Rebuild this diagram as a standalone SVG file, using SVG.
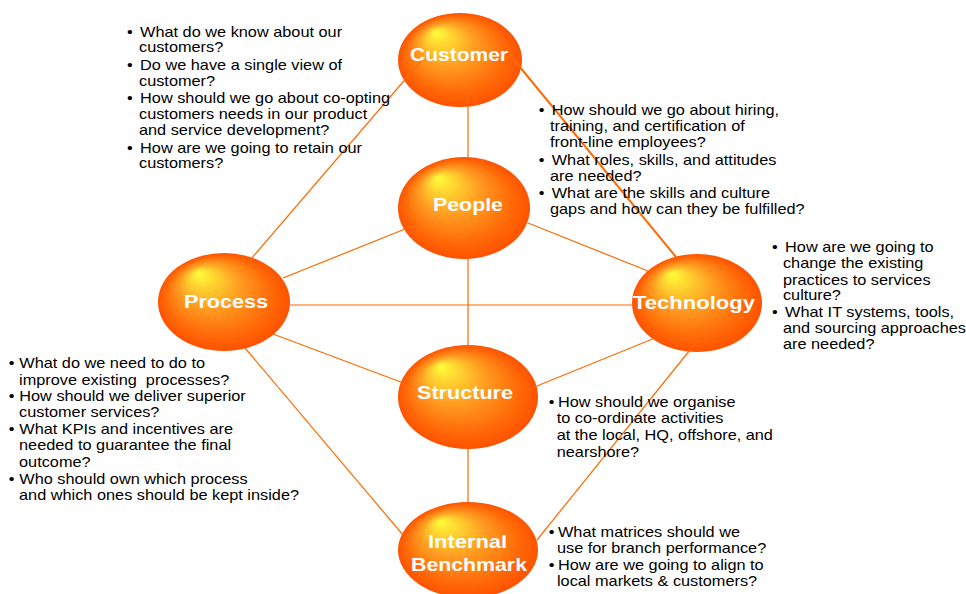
<svg xmlns="http://www.w3.org/2000/svg" width="966" height="594" viewBox="0 0 966 594">
<defs>
<radialGradient id="orb" cx="0.5" cy="0.5" r="0.5" fx="0.3" fy="0.2">
<stop offset="0" stop-color="#FFFF3A"/>
<stop offset="0.15" stop-color="#FFDD33"/>
<stop offset="0.45" stop-color="#FF9E22"/>
<stop offset="0.8" stop-color="#FF6A08"/>
<stop offset="1" stop-color="#FF5200"/>
</radialGradient>
</defs>
<style>
.orb{fill:url(#orb);}
.lbl{font-family:"Liberation Sans",Arial,sans-serif;font-weight:bold;font-size:19px;fill:#FFFFFF;}
.txt{font-family:"Liberation Sans",Arial,sans-serif;font-size:14px;fill:#000000;}
.con{stroke:#FF6A00;stroke-width:1.2;fill:none;}
.thick{stroke-width:2;}
</style>
<rect width="966" height="594" fill="#FFFFFF"/>

<g id="node-customer">
<ellipse class="orb" cx="460" cy="60" rx="62" ry="47"/>
<text class="lbl" x="410" y="61" textLength="98" lengthAdjust="spacingAndGlyphs">Customer</text>
</g>
<g id="node-people">
<ellipse class="orb" cx="464" cy="208" rx="66" ry="51"/>
<text class="lbl" x="433" y="211" textLength="70" lengthAdjust="spacingAndGlyphs">People</text>
</g>
<g id="node-process">
<ellipse class="orb" cx="224" cy="302" rx="66" ry="49"/>
<text class="lbl" x="184" y="308" textLength="84" lengthAdjust="spacingAndGlyphs">Process</text>
</g>
<g id="node-technology">
<ellipse class="orb" cx="697" cy="303" rx="65" ry="49"/>
<text class="lbl" x="633" y="309" textLength="122" lengthAdjust="spacingAndGlyphs">Technology</text>
</g>
<g id="node-structure">
<ellipse class="orb" cx="468" cy="397" rx="70" ry="52"/>
<text class="lbl" x="417" y="399" textLength="96" lengthAdjust="spacingAndGlyphs">Structure</text>
</g>
<g id="node-benchmark">
<ellipse class="orb" cx="468" cy="550" rx="70" ry="48"/>
<text class="lbl" x="428" y="548" textLength="79" lengthAdjust="spacingAndGlyphs">Internal</text>
<text class="lbl" x="411" y="571" textLength="116" lengthAdjust="spacingAndGlyphs">Benchmark</text>
</g>

<g id="connectors">
<line class="con" x1="421" y1="61" x2="245" y2="266"/>
<line class="con" x1="468" y1="92" x2="468" y2="158"/>
<line class="con thick" x1="510" y1="55" x2="676" y2="257"/>
<line class="con" x1="283" y1="278" x2="420" y2="223"/>
<line class="con" x1="528" y1="223" x2="648" y2="271"/>
<line class="con" x1="468" y1="258" x2="468" y2="346"/>
<line class="con" x1="290" y1="305" x2="634" y2="305"/>
<line class="con" x1="273" y1="334" x2="414" y2="387"/>
<line class="con" x1="245" y1="348" x2="403" y2="535"/>
<line class="con" x1="527" y1="390" x2="655" y2="338"/>
<line class="con" x1="468" y1="447" x2="468" y2="503"/>
<line class="con" x1="698" y1="340" x2="537" y2="540"/>
</g>

<g id="notes-customer" transform="translate(127,0) scale(1.165,1)">
<text class="txt">
<tspan x="0" y="37">•</tspan><tspan x="11.2">What do we know about our</tspan>
<tspan x="10.3" y="52">customers?</tspan>
<tspan x="0" y="70">•</tspan><tspan x="11.2">Do we have a single view of</tspan>
<tspan x="10.3" y="86">customer?</tspan>
<tspan x="0" y="103">•</tspan><tspan x="11.2">How should we go about co-opting</tspan>
<tspan x="10.3" y="119">customers needs in our product</tspan>
<tspan x="10.3" y="135">and service development?</tspan>
<tspan x="0" y="153">•</tspan><tspan x="11.2">How are we going to retain our</tspan>
<tspan x="10.3" y="168">customers?</tspan>
</text>
</g>

<g id="notes-people" transform="translate(538.8,0) scale(1.165,1)">
<text class="txt">
<tspan x="0" y="115">•</tspan><tspan x="11.1">How should we go about hiring,</tspan>
<tspan x="9.6" y="131">training, and certification of</tspan>
<tspan x="9.6" y="147.5">front-line employees?</tspan>
<tspan x="0" y="165">•</tspan><tspan x="11.1">What roles, skills, and attitudes</tspan>
<tspan x="9.6" y="181">are needed?</tspan>
<tspan x="0" y="198">•</tspan><tspan x="11.1">What are the skills and culture</tspan>
<tspan x="9.6" y="214">gaps and how can they be fulfilled?</tspan>
</text>
</g>

<g id="notes-technology" transform="translate(772,0) scale(1.165,1)">
<text class="txt">
<tspan x="0" y="252">•</tspan><tspan x="11.2">How are we going to</tspan>
<tspan x="9.4" y="268">change the existing</tspan>
<tspan x="9.4" y="285">practices to services</tspan>
<tspan x="9.4" y="300">culture?</tspan>
<tspan x="0" y="317">•</tspan><tspan x="11.2">What IT systems, tools,</tspan>
<tspan x="9.4" y="333">and sourcing approaches</tspan>
<tspan x="9.4" y="349">are needed?</tspan>
</text>
</g>

<g id="notes-process" transform="translate(8.8,0) scale(1.165,1)">
<text class="txt">
<tspan x="0" y="368">•</tspan><tspan x="9">What do we need to do to</tspan>
<tspan x="8.8" y="385" xml:space="preserve" style="white-space:pre">improve existing  processes?</tspan>
<tspan x="0" y="401.5">•</tspan><tspan x="9">How should we deliver superior</tspan>
<tspan x="8.8" y="417">customer services?</tspan>
<tspan x="0" y="434">•</tspan><tspan x="9">What KPIs and incentives are</tspan>
<tspan x="8.8" y="450">needed to guarantee the final</tspan>
<tspan x="8.8" y="467">outcome?</tspan>
<tspan x="0" y="484">•</tspan><tspan x="9">Who should own which process</tspan>
<tspan x="8.8" y="500">and which ones should be kept inside?</tspan>
</text>
</g>

<g id="notes-structure" transform="translate(548.8,0) scale(1.165,1)">
<text class="txt">
<tspan x="0" y="407">•</tspan><tspan x="7.9">How should we organise</tspan>
<tspan x="6.8" y="423">to co-ordinate activities</tspan>
<tspan x="6.8" y="440">at the local, HQ, offshore, and</tspan>
<tspan x="6.8" y="457">nearshore?</tspan>
</text>
</g>

<g id="notes-benchmark" transform="translate(548.8,0) scale(1.165,1)">
<text class="txt">
<tspan x="0" y="537">•</tspan><tspan x="7.9">What matrices should we</tspan>
<tspan x="7" y="553">use for branch performance?</tspan>
<tspan x="0" y="570">•</tspan><tspan x="7.9">How are we going to align to</tspan>
<tspan x="7" y="586">local markets &amp; customers?</tspan>
</text>
</g>
</svg>
